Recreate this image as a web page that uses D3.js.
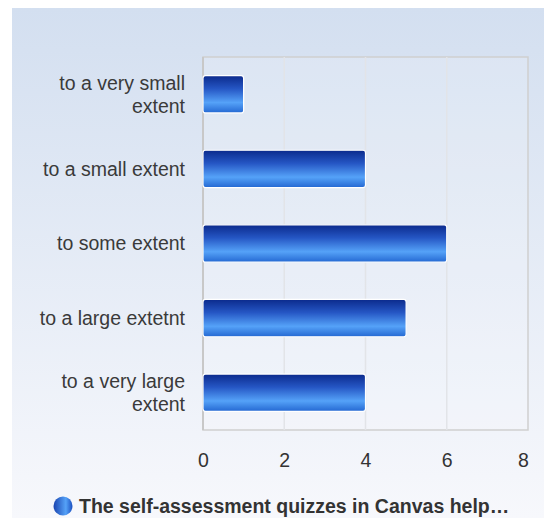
<!DOCTYPE html>
<meta charset="utf-8">
<style>
body { margin: 0; background: #fff; }
text { font-family: "Liberation Sans", Arial, sans-serif; }
</style>
<svg id="chart" width="544" height="518"></svg>
<script src="https://d3js.org/d3.v7.min.js"></script>
<script>

var categories = [
  ["to a very small", "extent"],
  ["to a small extent"],
  ["to some extent"],
  ["to a large extetnt"],
  ["to a very large", "extent"]
];
var values = [1, 4, 6, 5, 4];
var ticks = [0, 2, 4, 6, 8];
var seriesName = "The self-assessment quizzes in Canvas help\u2026";

var svg = d3.select("#chart"),
    width = +svg.attr("width"),
    height = +svg.attr("height");

var margin = {top: 57, right: 16, bottom: 88, left: 203};
var fontSize = 19.5;

var defs = svg.append("defs");

var bg = defs.append("linearGradient")
    .attr("id", "bg").attr("x1", 0).attr("y1", 0).attr("x2", 0).attr("y2", 1);
bg.append("stop").attr("offset", "0%").attr("stop-color", "#d3dff0");
bg.append("stop").attr("offset", "100%").attr("stop-color", "#f7f8fc");

var barGrad = defs.append("linearGradient")
    .attr("id", "barGrad").attr("x1", 0).attr("y1", 0).attr("x2", 0).attr("y2", 1);
barGrad.append("stop").attr("offset", "0%").attr("stop-color", "#0b2a8c");
barGrad.append("stop").attr("offset", "35%").attr("stop-color", "#2556c4");
barGrad.append("stop").attr("offset", "72%").attr("stop-color", "#55a2f8");
barGrad.append("stop").attr("offset", "100%").attr("stop-color", "#2468d2");

var dotGrad = defs.append("linearGradient")
    .attr("id", "dotGrad").attr("x1", 0).attr("y1", 0).attr("x2", 1).attr("y2", 0);
dotGrad.append("stop").attr("offset", "0%").attr("stop-color", "#1a44b0");
dotGrad.append("stop").attr("offset", "65%").attr("stop-color", "#55a2f8");
dotGrad.append("stop").attr("offset", "100%").attr("stop-color", "#1a4fc0");

// background panel
svg.append("rect")
    .attr("x", 12).attr("y", 8)
    .attr("width", width - 12).attr("height", height - 8)
    .attr("fill", "url(#bg)");

var x = d3.scaleLinear()
    .domain([0, 8])
    .range([margin.left, width - margin.right]);

var y = d3.scaleBand()
    .domain(d3.range(categories.length))
    .range([margin.top, height - margin.bottom])
    .paddingInner(0.5)
    .paddingOuter(0.25);

// plot frame
svg.append("rect")
    .attr("x", x(0)).attr("y", margin.top)
    .attr("width", x(8) - x(0)).attr("height", height - margin.bottom - margin.top)
    .attr("fill", "#ffffff").attr("fill-opacity", 0.15)
    .attr("stroke", "#cfcfcf").attr("stroke-width", 1.5);

// grid
svg.append("g")
  .selectAll("line")
  .data(ticks.slice(1, -1))
  .enter().append("line")
    .attr("x1", function(d) { return x(d); })
    .attr("x2", function(d) { return x(d); })
    .attr("y1", margin.top)
    .attr("y2", height - margin.bottom)
    .attr("stroke", "#e2e4e8")
    .attr("stroke-width", 1.5);

svg.append("line")
    .attr("x1", x(0)).attr("x2", x(0))
    .attr("y1", margin.top).attr("y2", height - margin.bottom)
    .attr("stroke", "#c8c8c8").attr("stroke-width", 2);

// bars
svg.append("g")
  .selectAll("rect")
  .data(values)
  .enter().append("rect")
    .attr("x", x(0))
    .attr("y", function(d, i) { return y(i); })
    .attr("width", function(d) { return x(d) - x(0); })
    .attr("height", y.bandwidth())
    .attr("rx", 2.5)
    .attr("fill", "url(#barGrad)")
    .attr("stroke", "#ffffff")
    .attr("stroke-width", 1.2);

// x axis
var xAxis = svg.append("g")
    .attr("transform", "translate(0," + (height - margin.bottom) + ")")
    .call(d3.axisBottom(x).tickValues(ticks).tickSize(0).tickPadding(23));
xAxis.select(".domain").remove();
xAxis.selectAll("text")
    .attr("font-size", fontSize)
    .attr("fill", "#333")
    .style("font-family", "'Liberation Sans', Arial, sans-serif");
// last label pulled in so it stays inside the panel
xAxis.selectAll(".tick").filter(function(d) { return d === 8; })
    .select("text").attr("dx", -5);

// category labels
var lab = svg.append("g")
  .selectAll("text")
  .data(categories)
  .enter().append("text")
    .attr("text-anchor", "end")
    .attr("font-size", fontSize)
    .attr("fill", "#3a3a3a")
    .attr("transform", function(d, i) {
      return "translate(185," + (y(i) + y.bandwidth() / 2) + ")";
    });
lab.selectAll("tspan")
  .data(function(d) { return d; })
  .enter().append("tspan")
    .attr("x", 0)
    .attr("y", function(d, j, nodes) { return (j - (nodes.length - 1) / 2) * 23; })
    .attr("dy", "0.35em")
    .text(function(d) { return d; });

// legend
var legend = svg.append("g").attr("transform", "translate(63,506)");
legend.append("circle")
    .attr("r", 9.5)
    .attr("fill", "url(#dotGrad)");
legend.append("text")
    .attr("x", 16)
    .attr("dy", "0.35em")
    .attr("font-size", fontSize)
    .attr("font-weight", "bold")
    .attr("fill", "#333")
    .text(seriesName);

</script>
